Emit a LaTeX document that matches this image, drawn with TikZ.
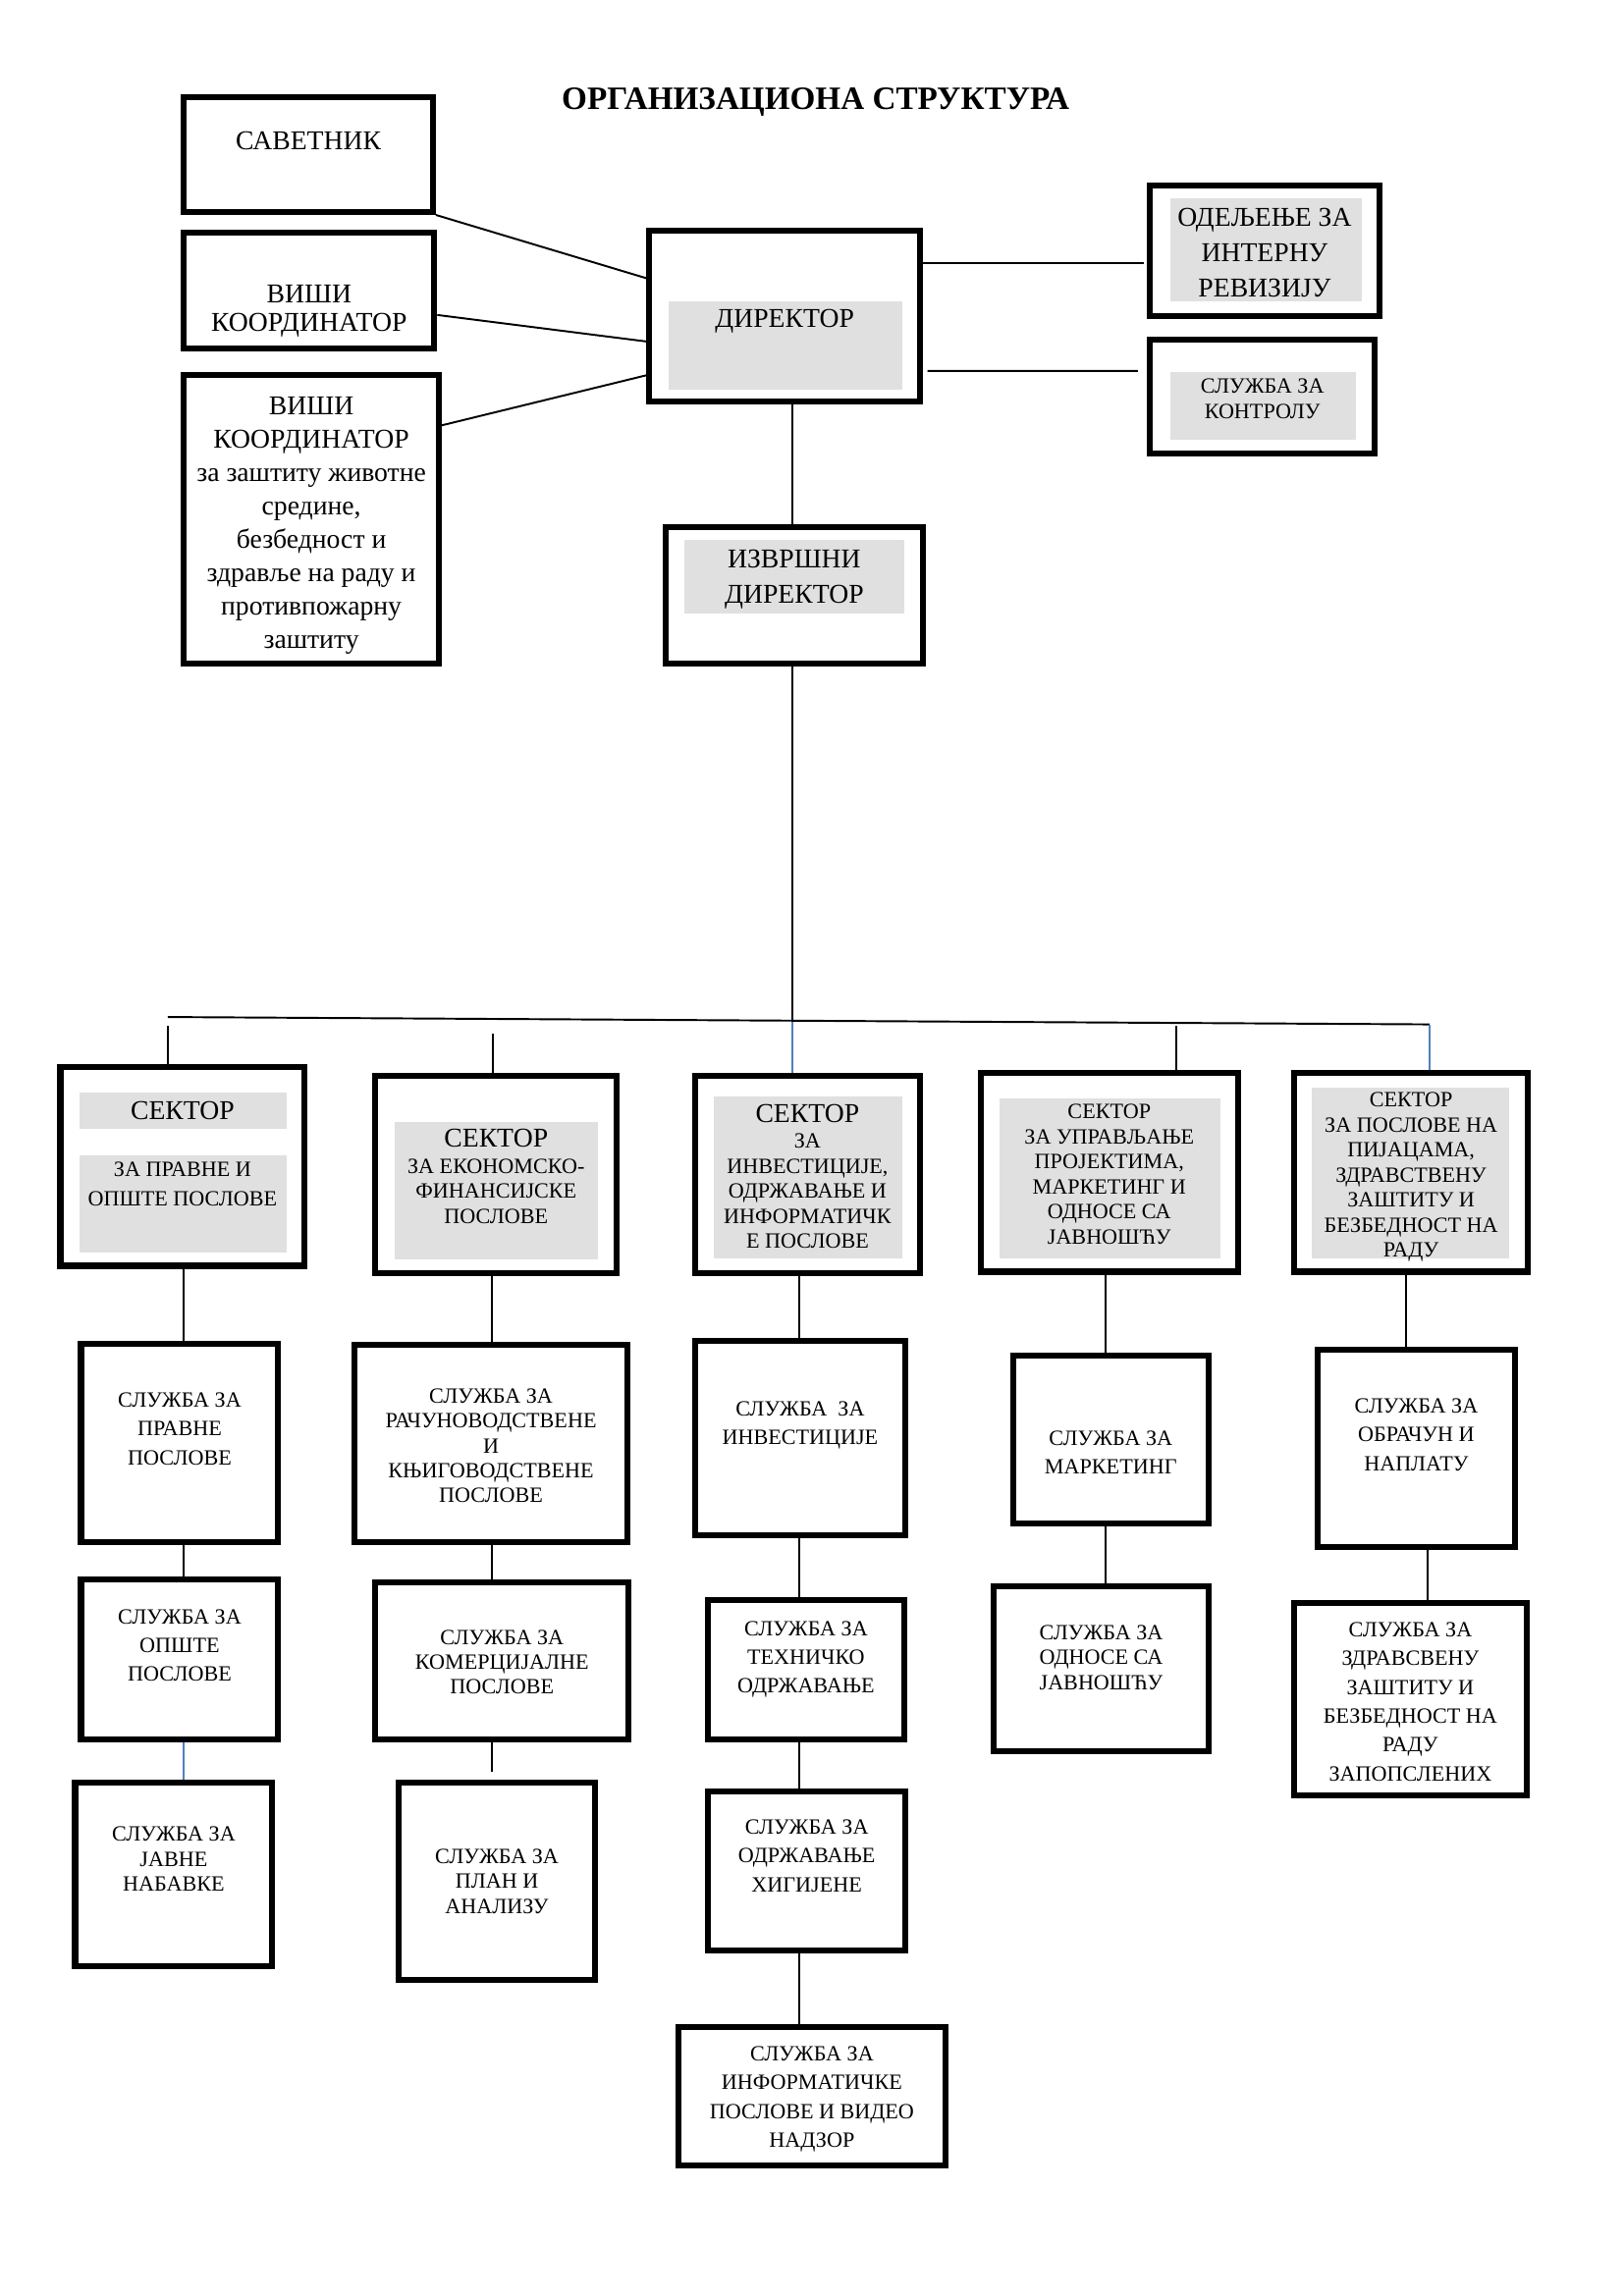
\documentclass[tikz,border=0pt]{standalone}
\usepackage{fontspec}
\setmainfont{Liberation Serif}
\usetikzlibrary{fit,calc}
\definecolor{cellgray}{RGB}{224,224,224}
\definecolor{linkblue}{RGB}{79,129,189}
\tikzset{
  box/.style={draw, line width=2.2pt, inner sep=0pt},
  conn/.style={line width=0.7pt},
  bconn/.style={draw=linkblue, line width=0.7pt},
  txt/.style={align=center, inner sep=0pt, anchor=north},
  big/.style={txt, font=\fontsize{10}{13}\selectfont},
  small/.style={txt, font=\fontsize{8}{9.2}\selectfont},
  loose/.style={txt, font=\fontsize{8}{10.6}\selectfont},
}
\begin{document}
\begin{tikzpicture}[x=0.01904cm, y=-0.01904cm]
\useasboundingbox (0,0) rectangle (1103,1560);

\node[txt, font=\bfseries\fontsize{12}{14}\selectfont] (title) at (554,59) {ОРГАНИЗАЦИОНА СТРУКТУРА};

% shading
\fill[cellgray] (454,205) rectangle (613,265);
\fill[cellgray] (795,135) rectangle (925,205);
\fill[cellgray] (795,253) rectangle (921,299);
\fill[cellgray] (465,367) rectangle (614,417);
\fill[cellgray] (54,742) rectangle (195,767);
\fill[cellgray] (54,785) rectangle (195,851);
\fill[cellgray] (268,762) rectangle (406,856);
\fill[cellgray] (485,745) rectangle (613,855);
\fill[cellgray] (679,746) rectangle (829,855);
\fill[cellgray] (891,739) rectangle (1025,855);

% top
\node[box, fit={(125,66) (294,144)}] (sav) {};
\node[box, fit={(125,158) (295,237)}] (vk1) {};
\node[box, fit={(125,255) (298,451)}] (vk2) {};
\node[box, fit={(441,157) (625,273)}] (dir) {};
\node[box, fit={(781,126) (937,215)}] (rev) {};
\node[box, fit={(781,231) (934,308)}] (kon) {};
\node[box, fit={(452,358) (627,451)}] (ex) {};

% sectors
\node[box, fit={(41,725) (207,860)}] (s1) {};
\node[box, fit={(255,731) (419,865)}] (s2) {};
\node[box, fit={(472,731) (625,865)}] (s3) {};
\node[box, fit={(666,729) (841,864)}] (s4) {};
\node[box, fit={(879,729) (1038,864)}] (s5) {};

% services
\node[box, fit={(55,913) (189,1048)}] (a1) {};
\node[box, fit={(241,914) (426,1048)}] (a2) {};
\node[box, fit={(472,911) (615,1043)}] (a3) {};
\node[box, fit={(688,921) (821,1035)}] (a4) {};
\node[box, fit={(895,917) (1029,1051)}] (a5) {};
\node[box, fit={(55,1073) (189,1182)}] (b1) {};
\node[box, fit={(255,1075) (427,1182)}] (b2) {};
\node[box, fit={(481,1087) (614,1182)}] (b3) {};
\node[box, fit={(675,1078) (821,1190)}] (b4) {};
\node[box, fit={(879,1089) (1037,1220)}] (b5) {};
\node[box, fit={(51,1211) (185,1336)}] (c1) {};
\node[box, fit={(271,1211) (404,1345)}] (c2) {};
\node[box, fit={(481,1217) (615,1325)}] (c3) {};
\node[box, fit={(461,1377) (642,1471)}] (d3) {};

% texts
\node[big] (sav-t) at (sav.center |- 0,89) {САВЕТНИК};
\node[big, font=\fontsize{10}{10.8}\selectfont] (vk1-t) at (vk1.center |- 0,193) {ВИШИ\\КООРДИНАТОР};
\node[big, font=\fontsize{10}{12.3}\selectfont] (vk2-t) at (vk2.center |- 0,269) {ВИШИ\\КООРДИНАТОР\\за заштиту животне\\средине,\\безбедност и\\здравље на раду и\\противпожарну\\заштиту};
\node[big] (dir-t) at (dir.center |- 0,210) {ДИРЕКТОР};
\node[big] (rev-t) at (rev.center |- 0,141) {ОДЕЉЕЊЕ ЗА\\ИНТЕРНУ\\РЕВИЗИЈУ};
\node[small] (kon-t) at (kon.center |- 0,257) {СЛУЖБА ЗА\\КОНТРОЛУ};
\node[big] (ex-t) at (ex.center |- 0,373) {ИЗВРШНИ\\ДИРЕКТОР};

\node[big] (s1-h) at (s1.center |- 0,748) {СЕКТОР};
\node[small, font=\fontsize{8}{10.8}\selectfont] (s1-t) at (s1.center |- 0,789) {ЗА ПРАВНЕ И\\ОПШТЕ ПОСЛОВЕ};
\node[big] (s2-h) at (s2.center |- 0,767) {СЕКТОР};
\node[small] (s2-t) at (s2.center |- 0,787) {ЗА ЕКОНОМСКО-\\ФИНАНСИЈСКЕ\\ПОСЛОВЕ};
\node[big] (s3-h) at (s3.center |- 0,750) {СЕКТОР};
\node[small] (s3-t) at (s3.center |- 0,770) {ЗА\\ИНВЕСТИЦИЈЕ,\\ОДРЖАВАЊЕ И\\ИНФОРМАТИЧК\\Е ПОСЛОВЕ};
\node[small] (s4-t) at (s4.center |- 0,750) {СЕКТОР\\ЗА УПРАВЉАЊЕ\\ПРОЈЕКТИМА,\\МАРКЕТИНГ И\\ОДНОСЕ СА\\ЈАВНОШЋУ};
\node[small] (s5-t) at (s5.center |- 0,742) {СЕКТОР\\ЗА ПОСЛОВЕ НА\\ПИЈАЦАМА,\\ЗДРАВСТВЕНУ\\ЗАШТИТУ И\\БЕЗБЕДНОСТ НА\\РАДУ};

\node[loose] (a1-t) at (a1.center |- 0,946) {СЛУЖБА ЗА\\ПРАВНЕ\\ПОСЛОВЕ};
\node[small] (a2-t) at (a2.center |- 0,943) {СЛУЖБА ЗА\\РАЧУНОВОДСТВЕНЕ\\И\\КЊИГОВОДСТВЕНЕ\\ПОСЛОВЕ};
\node[loose] (a3-t) at (a3.center |- 0,952) {СЛУЖБА \ ЗА\\ИНВЕСТИЦИЈЕ};
\node[loose] (a4-t) at (a4.center |- 0,972) {СЛУЖБА ЗА\\МАРКЕТИНГ};
\node[loose] (a5-t) at (a5.center |- 0,950) {СЛУЖБА ЗА\\ОБРАЧУН И\\НАПЛАТУ};
\node[loose] (b1-t) at (b1.center |- 0,1093) {СЛУЖБА ЗА\\ОПШТЕ\\ПОСЛОВЕ};
\node[small] (b2-t) at (b2.center |- 0,1107) {СЛУЖБА ЗА\\КОМЕРЦИЈАЛНЕ\\ПОСЛОВЕ};
\node[loose] (b3-t) at (b3.center |- 0,1101) {СЛУЖБА ЗА\\ТЕХНИЧКО\\ОДРЖАВАЊЕ};
\node[small] (b4-t) at (b4.center |- 0,1104) {СЛУЖБА ЗА\\ОДНОСЕ СА\\ЈАВНОШЋУ};
\node[loose] (b5-t) at (b5.center |- 0,1102) {СЛУЖБА ЗА\\ЗДРАВСВЕНУ\\ЗАШТИТУ И\\БЕЗБЕДНОСТ НА\\РАДУ\\ЗАПОПСЛЕНИХ};
\node[small] (c1-t) at (c1.center |- 0,1241) {СЛУЖБА ЗА\\ЈАВНЕ\\НАБАВКЕ};
\node[small] (c2-t) at (c2.center |- 0,1256) {СЛУЖБА ЗА\\ПЛАН И\\АНАЛИЗУ};
\node[loose] (c3-t) at (c3.center |- 0,1236) {СЛУЖБА ЗА\\ОДРЖАВАЊЕ\\ХИГИЈЕНЕ};
\node[loose] (d3-t) at (d3.center |- 0,1390) {СЛУЖБА ЗА\\ИНФОРМАТИЧКЕ\\ПОСЛОВЕ И ВИДЕО\\НАДЗОР};

% lines to director
\draw[conn] (sav.south east) -- ($(dir.west)+(0,-26)$);
\draw[conn] ($(vk1.east)+(0,16.5)$) -- ($(dir.west)+(0,17)$);
\draw[conn] ($(vk2.east)+(0,-64)$) -- ($(dir.west)+(0,40)$);
\draw[conn] ($(dir.east)+(0,-36)$) -- ($(rev.west)+(-2,8.5)$);
\draw[conn] ($(dir.east)+(3,37)$) -- ($(kon.west)+(-6,-17.5)$);
\draw[conn] (dir.south -| 538,0) -- (ex.north -| 538,0);

% bus
\coordinate (busL) at (114,691);
\coordinate (busR) at (971,696);
\coordinate (hub) at (538,694);
\coordinate (d1) at (114,697);
\coordinate (d2) at (335,702);
\coordinate (d4) at (799,697);
\coordinate (d5) at (971,696);
\draw[conn] (busL) -- (busR);
\draw[conn] (ex.south -| hub) -- (hub);
\draw[bconn] (hub) -- (hub |- s3.north);
\draw[conn] (d1) -- (d1 |- s1.north);
\draw[conn] (d2) -- (d2 |- s2.north);
\draw[conn] (d4) -- (d4 |- s4.north);
\draw[bconn] (d5) -- (d5 |- s5.north);

% columns
\draw[conn] (s1.south -| 125,0) -- (a1.north -| 125,0);
\draw[conn] (a1.south -| 125,0) -- (b1.north -| 125,0);
\draw[bconn] (b1.south -| 125,0) -- (c1.north -| 125,0);
\draw[conn] (s2.south -| 334,0) -- (a2.north -| 334,0);
\draw[conn] (a2.south -| 334,0) -- (b2.north -| 334,0);
\draw[conn] (b2.south -| 334,0) -- ($(c2.north -| 334,0)+(0,-5)$);
\draw[conn] (s3.south -| 543,0) -- (a3.north -| 543,0);
\draw[conn] (a3.south -| 543,0) -- (b3.north -| 543,0);
\draw[conn] (b3.south -| 543,0) -- (c3.north -| 543,0);
\draw[conn] (c3.south -| 543,0) -- (d3.north -| 543,0);
\draw[conn] (s4.south -| 751,0) -- (a4.north -| 751,0);
\draw[conn] (a4.south -| 751,0) -- (b4.north -| 751,0);
\draw[conn] (s5.south -| 955,0) -- (a5.north -| 955,0);
\draw[conn] (a5.south -| 970,0) -- (b5.north -| 970,0);
\end{tikzpicture}
\end{document}
